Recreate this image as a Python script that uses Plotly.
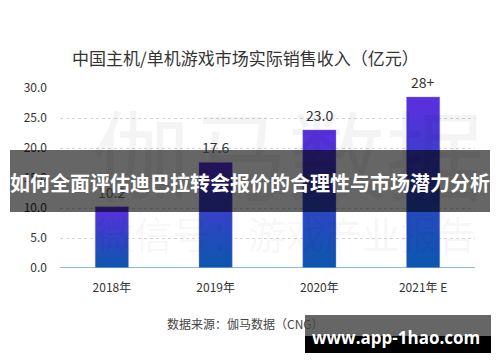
import plotly.graph_objects as go

categories = ["2018年", "2019年", "2020年", "2021年 E"]
values = [10.2, 17.6, 23.0, 28.5]
value_labels = ["10.2", "17.6", "23.0", "28+"]
y_ticks = [0, 5, 10, 15, 20, 25, 30]
y_tick_labels = ["0.0", "5.0", "10.0", "15.0", "20.0", "25.0", "30.0"]

title_text = "中国主机/单机游戏市场实际销售收入（亿元）"
source_text = "数据来源：伽马数据（CNG）"
banner_text = "如何全面评估迪巴拉转会报价的合理性与市场潜力分析"
badge_text = "www.app-1hao.com"
wm_big = "伽马数据"
wm_small = "微信号：游戏产业报告"

# the page body has an 8px default margin; compensate for it
OFF = 8
W, H = 500 - OFF, 362 - OFF
L, R, T, B = 60 - OFF, 25, 88 - OFF, 94
PW, PH = W - L - R, H - T - B
FONT = "Noto Sans CJK SC"


def px(x):
    return (x - OFF - L) / PW


def py(y):
    return (H - B - (y - OFF)) / PH


fig = go.Figure()

half = 0.16
for i, v in enumerate(values):
    xs = [i - half, i - half, i + half, i + half, i - half]
    ys = [0, v, v, 0, 0]
    fig.add_trace(go.Scatter(
        x=xs, y=ys, mode="lines", fill="toself",
        line=dict(width=0.6, color="rgba(140,130,240,0.6)"),
        fillgradient=dict(type="vertical",
                          colorscale=[[0, "#0b57ad"], [1, "#5b2fe0"]]),
        hoverinfo="skip", showlegend=False,
    ))

for i, (v, lab) in enumerate(zip(values, value_labels)):
    fig.add_annotation(x=i, y=v, text=lab, showarrow=False, yanchor="bottom",
                       xanchor="center", yshift=3,
                       font=dict(family=FONT, size=14, color="#333"))

fig.update_xaxes(range=[-0.5, 3.5], tickvals=list(range(len(categories))),
                 ticktext=categories, showgrid=False, zeroline=False,
                 showline=False, ticks="", ticklen=0, ticklabelstandoff=11,
                 tickfont=dict(family=FONT, size=12, color="#333"))
fig.update_yaxes(range=[0, 30], tickvals=y_ticks, ticktext=y_tick_labels,
                 showgrid=True, gridcolor="#d4d4d4", griddash="dot",
                 gridwidth=1, zeroline=False, showline=False, ticks="",
                 ticklabelstandoff=12,
                 tickfont=dict(family=FONT, size=12, color="#333"))

# baseline
fig.add_shape(type="line", xref="paper", yref="y", x0=0, x1=1, y0=0, y1=0,
              line=dict(color="#6a9fd8", width=1.5))


def note(x, y, text, size, color, family=FONT):
    fig.add_annotation(xref="paper", yref="paper", x=px(x), y=py(y),
                       xanchor="center", yanchor="middle", text=text,
                       showarrow=False,
                       font=dict(family=family, size=size, color=color))


# title
note(245, 58, title_text, 17, "#333")

# watermarks
note(288, 150, wm_big, 98, "rgba(0,0,0,0.045)")
note(286, 232, wm_small, 38, "rgba(0,0,0,0.045)")

# source
note(245, 323, source_text, 12, "#444")

# banner
fig.add_shape(type="rect", xref="paper", yref="paper", x0=px(10), x1=px(490),
              y0=py(212), y1=py(150), fillcolor="rgba(0,0,0,0.6)",
              line=dict(width=0), layer="above")
note(250, 182, "<b>" + banner_text + "</b>", 20, "white")

# badge
fig.add_shape(type="rect", xref="paper", yref="paper", x0=px(305), x1=px(491),
              y0=py(336), y1=py(315), fillcolor="rgba(0,0,0,0.6)",
              line=dict(width=0), layer="above")
fig.add_shape(type="rect", xref="paper", yref="paper", x0=px(305), x1=px(491),
              y0=py(353), y1=py(336), fillcolor="black",
              line=dict(width=0), layer="above")
note(396, 337, "<b>" + badge_text + "</b>", 17, "white", "Open Sans")

fig.update_layout(width=W, height=H, margin=dict(l=L, r=R, t=T, b=B),
                  paper_bgcolor="white", plot_bgcolor="white",
                  showlegend=False)

fig.write_html("out.html")
